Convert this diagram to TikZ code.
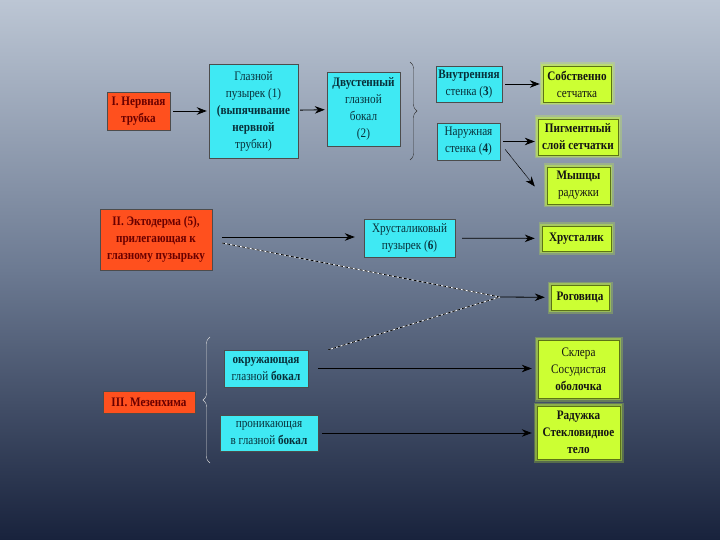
\documentclass[tikz,border=0pt]{standalone}
\usepackage{fontspec}
\setmainfont[FakeStretch=0.86]{Liberation Serif}
\usetikzlibrary{arrows.meta,decorations.pathreplacing}
\definecolor{bgtop}{RGB}{188,198,212}
\definecolor{bgmid}{RGB}{108,122,146}
\definecolor{bgbot}{RGB}{24,34,60}
\definecolor{redbox}{RGB}{255,80,30}
\definecolor{redtext}{RGB}{105,0,0}
\definecolor{cyanbox}{RGB}{63,233,243}
\definecolor{cyantext}{RGB}{8,48,58}
\definecolor{limebox}{RGB}{204,255,51}
\definecolor{limetext}{RGB}{20,20,20}
\begin{document}
\begin{tikzpicture}[x=1pt, y=-1pt,
	box/.style = {draw=black!70, thin, align=center, inner sep=1pt,
		font=\fontsize{13}{17}\selectfont},
	germ/.style = {box, fill=redbox, text=redtext, font=\fontsize{13}{17}\selectfont\bfseries},
	part/.style = {box, fill=cyanbox, text=cyantext},
	organ/.style = {box, fill=limebox, text=limetext, draw=limebox!45!black,
		preaction={draw=limebox, line width=7pt, opacity=0.25},
		preaction={draw=limebox, line width=3.5pt, opacity=0.4}},
	arr/.style = {-{Stealth[length=10pt, width=7.5pt]}, line width=0.8pt, black},
	dashlink/.style = {line width=0.8pt, black, dash pattern=on 3pt off 2pt, preaction={draw=white, line width=0.8pt}}
	]
	\fill[top color=bgtop, bottom color=bgbot, middle color=bgmid] (0,0) rectangle (720,540);
	\useasboundingbox (0,0) rectangle (720,540);
	
	\node[germ, minimum width=63pt, minimum height=38pt] (tube) at (138.5,111) {I. Нервная\\трубка};
	\node[part, minimum width=89pt, minimum height=94pt] (glaz) at (253.5,111)
		{Глазной\\пузырек (1)\\\textbf{(выпячивание}\\\textbf{нервной}\\трубки)};
	\node[part, minimum width=73pt, minimum height=74pt] (bokal) at (363.5,109)
		{\textbf{Двустенный}\\глазной\\бокал\\(2)};
	\node[part, minimum width=66pt, minimum height=36pt] (vnut) at (469,84) {\textbf{Внутренняя}\\стенка (\textbf{3})};
	\node[part, minimum width=63pt, minimum height=37pt] (nar) at (468.5,141.5) {Наружная\\стенка (\textbf{4})};
	\node[organ, minimum width=68pt, minimum height=36pt] (sobst) at (577,84) {\textbf{Собственно}\\сетчатка};
	\node[organ, minimum width=80pt, minimum height=36pt] (pigm) at (578,137) {\textbf{Пигментный}\\\textbf{слой сетчатки}};
	\node[organ, minimum width=63pt, minimum height=37pt] (mysh) at (578.5,185.5) {\textbf{Мышцы}\\радужки};
	
	\node[germ, minimum width=112pt, minimum height=61pt] (ecto) at (156,239.5)
		{II. Эктодерма (5),\\прилегающая к\\глазному пузырьку};
	\node[part, minimum width=91pt, minimum height=38pt] (hrpuz) at (409.5,238) {Хрусталиковый\\пузырек (\textbf{6})};
	\node[organ, minimum width=69pt, minimum height=25pt] (hrus) at (576.5,238.5) {\textbf{Хрусталик}};
	\node[organ, minimum width=58pt, minimum height=25pt] (rogo) at (580,297.5) {\textbf{Роговица}};
	\coordinate (meet) at (500,297);
	\coordinate (ectoA) at ([xshift=10pt, yshift=2.5pt]ecto.east);
	\coordinate (ectoB) at ([xshift=10pt, yshift=-3.5pt]ecto.east);
	
	\node[germ, minimum width=92pt, minimum height=22pt] (mesen) at (149,402) {III. Мезенхима};
	\node[part, minimum width=84pt, minimum height=37pt] (okr) at (266,368.5) {\textbf{окружающая}\\глазной \textbf{бокал}};
	\node[part, minimum width=98pt, minimum height=36pt] (pron) at (269,433) {проникающая\\в глазной \textbf{бокал}};
	\node[organ, minimum width=81pt, minimum height=58pt] (sklera) at (578.5,369) {Склера\\Сосудистая\\\textbf{оболочка}};
	\node[organ, minimum width=83pt, minimum height=53pt] (radu) at (578.5,432.5) {\textbf{Радужка}\\\textbf{Стекловидное}\\\textbf{тело}};
	
	\draw[arr, shorten <=3pt, shorten >=2pt] (tube) -- (glaz);
	\draw[arr, shorten <=2pt, shorten >=2pt] (glaz) -- (bokal);
	\draw[black!80, decorate, decoration={brace, amplitude=7pt}] (410,62) -- (410,160);
	\draw[arr, shorten <=3pt, shorten >=3pt] (vnut) -- (sobst);
	\draw[arr, shorten <=3pt, shorten >=3pt] (nar.east) -- (pigm.west |- nar.east);
	\draw[arr, line width=0.6pt, dash pattern=on 1pt off 0.5pt] ([xshift=5pt, yshift=-8pt]nar.east) -- ([xshift=-12pt, yshift=-1pt]mysh.west);
	
	\draw[arr] (ectoA) -- ([xshift=-9pt]hrpuz.west |- ectoA);
	\draw[arr, shorten <=7pt, shorten >=7pt] (hrpuz) -- (hrus);
	\draw[dashlink] (ectoB) -- (meet);
	\draw[dashlink] (okr.north east) ++(20pt,0pt) -- (meet);
	\draw[arr, shorten >=6pt] (meet) -- (rogo);
	
	\draw[white!85!black, decorate, decoration={brace, amplitude=7pt}] (210,463) -- (210,337);
	\draw[arr, shorten >=6pt] ([xshift=10pt]okr.east) -- (sklera.west |- okr.east);
	\draw[arr, shorten >=5pt] ([xshift=4pt]pron.east) -- (radu.west |- pron.east);
\end{tikzpicture}
\end{document}
